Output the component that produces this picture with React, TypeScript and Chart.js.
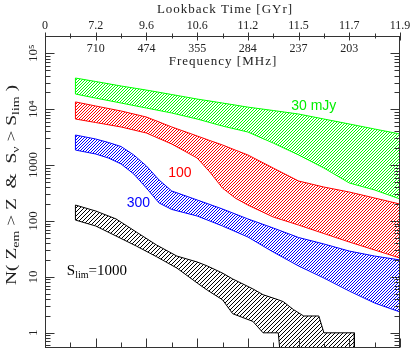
import React, { useEffect, useRef } from 'react';
import { Chart, registerables } from 'chart.js';
Chart.register(...registerables);

// ---- data (redshift z on the x axis, cumulative counts N on the y axis) ----
const zGreen = [0.6, 1, 1.5, 2, 2.5, 3, 3.5, 4, 4.5, 5, 5.5, 6, 6.5, 7];
const greenHi = [36100, 31300, 26000, 22000, 18300, 15200, 12900, 10900, 9480, 8200, 6680, 5440, 4420, 3600];
const greenLo = [18700, 15800, 12900, 10500, 8550, 6680, 5000, 3910, 2480, 1520, 887, 479, 359, 248];

const zRed = [0.6, 1, 1.5, 2, 2.5, 3, 3.25, 3.5, 3.75, 4, 4.5, 5, 5.5, 6, 6.5, 7];
const redHi = [13500, 11400, 9290, 7250, 4810, 3320, 2750, 2290, 1860, 1520, 887, 520, 405, 330, 258, 201];
const redLo = [6680, 5780, 4810, 3750, 2380, 1340, 753, 389, 258, 193, 118, 84.7, 59.7, 42.1, 30.3, 21.8];

const zBlue = [0.6, 1, 1.25, 1.5, 1.75, 2, 2.25, 2.5, 3, 3.5, 4, 4.5, 5, 5.5, 6, 6.5, 7];
const blueHi = [3450, 2930, 2540, 2150, 1520, 964, 541, 344, 238, 164, 109, 75, 50.7, 38.8, 29, 23.6, 20.1];
const blueLo = [1860, 1580, 1340, 1050, 693, 389, 210, 161, 123, 81.5, 51.8, 27.9, 15.7, 9.55, 5.59, 3.41, 2.36];

const zBlack = [0.6, 1.0, 1.4, 1.8, 2.2, 2.6, 3.0, 3.2, 3.5, 3.7, 4.1, 4.3, 4.6, 4.7, 4.9, 5.1, 5.4, 5.5, 6.1];
const blackHi = [193, 151, 109, 63.6, 37.2, 23.6, 18.5, 15.7, 11.7, 9.2, 6.1, 4.8, 3.9, 3.6, 2.6, 2, 2, 1, 1];
const blackLo = [104, 81.5, 54, 35.7, 23, 14.4, 7.8, 5.8, 3.9, 2.2, 1.6, 1, 1, 0.1, 0.1, 0.1, 0.1, 0.1, 0.1];

// ---- axis ticks ----
const lookbackTicks = [0, 1, 2, 3, 4, 5, 6, 7];
const lookbackLabels = ['0', '7.2', '9.6', '10.6', '11.2', '11.5', '11.7', '11.9'];
const freqTicks = [1, 2, 3, 4, 5, 6];
const freqLabels = ['710', '474', '355', '284', '237', '203'];
const yTickValues = [1, 10, 100, 1000, 10000, 100000];
const yTickLabels = ['1', '10', '100', '1000', '10⁴', '10⁵'];

// ---- band annotations (anchor in data coordinates) ----
const bandLabelText = ['30 mJy', '100', '300'];
const bandLabelZ = [5.3, 2.66, 1.84];
const bandLabelN = [11400, 723, 210];
const bandLabelColor = ['#00ee00', '#ff0000', '#0000ff'];
const sLimZ = 0.43;
const sLimN = 12.8;

const SERIF = '"Liberation Serif", "DejaVu Serif", serif';
const SANS = '"Liberation Sans", "DejaVu Sans", sans-serif';
const AXIS = '#333333';
const TEXT = '#222222';

function hatch(color: string, p: number) {
  const c = document.createElement('canvas');
  c.width = p;
  c.height = p;
  const g = c.getContext('2d')!;
  g.fillStyle = color;
  for (let i = 0; i < p; i++) g.fillRect(i, p - 1 - i, 1, 1);
  return g.createPattern(c, 'repeat')!;
}

function polygon(z: number[], hi: number[], lo: number[]) {
  const pts: { x: number; y: number }[] = [];
  for (let i = 0; i < z.length; i++) pts.push({ x: z[i], y: hi[i] });
  for (let i = z.length - 1; i >= 0; i--) pts.push({ x: z[i], y: lo[i] });
  pts.push({ x: z[0], y: hi[0] });
  return pts;
}

function drawRich(ctx: CanvasRenderingContext2D, parts: { t: string; sub?: boolean }[], size: number, subSize: number, x: number, y: number, targetLen: number | null, align: 'center' | 'left') {
  ctx.save();
  let W = 0;
  for (const p of parts) {
    ctx.font = `${p.sub ? subSize : size}px ${SERIF}`;
    W += ctx.measureText(p.t).width;
  }
  ctx.translate(x, y);
  const sx = targetLen ? targetLen / W : 1;
  ctx.scale(sx, 1);
  let cx = align === 'center' ? -W / 2 : 0;
  ctx.textAlign = 'left';
  ctx.textBaseline = 'middle';
  for (const p of parts) {
    ctx.font = `${p.sub ? subSize : size}px ${SERIF}`;
    ctx.fillText(p.t, cx, p.sub ? size * 0.33 : 0);
    cx += ctx.measureText(p.t).width;
  }
  ctx.restore();
}

const decor = {
  id: 'decor',
  afterDatasetsDraw(chart: any) {
    const { ctx, chartArea: a, scales } = chart;
    const xs = scales.x;
    const ys = scales.y;
    const L = Math.round(a.left) + 0.5;
    const R = Math.round(a.right) - 0.5;
    const T = Math.round(a.top) + 0.5;
    const B = Math.round(a.bottom) - 0.5;
    ctx.save();
    ctx.strokeStyle = AXIS;
    ctx.lineWidth = 1;
    ctx.strokeRect(L, T, R - L, B - T);
    ctx.beginPath();
    for (let i = 0; i <= 14; i++) {
      const z = i * 0.5;
      const px = Math.round(xs.getPixelForValue(z)) + 0.5;
      const major = i % 2 === 0;
      ctx.moveTo(px, B);
      ctx.lineTo(px, B - (major ? 9 : 5));
      ctx.moveTo(px, T - (major ? 4 : 3));
      ctx.lineTo(px, T + (major ? 4 : 2));
    }
    for (let d = -1; d <= 6; d++) {
      for (let k = 1; k <= 9; k++) {
        const v = k * Math.pow(10, d);
        if (v < ys.min || v > ys.max) continue;
        const py = Math.round(ys.getPixelForValue(v)) + 0.5;
        const len = k === 1 ? 9 : 5;
        ctx.moveTo(L, py);
        ctx.lineTo(L + len, py);
        ctx.moveTo(R, py);
        ctx.lineTo(R - len, py);
      }
    }
    ctx.stroke();

    ctx.fillStyle = TEXT;
    ctx.textAlign = 'center';
    ctx.textBaseline = 'middle';
    ctx.font = `12px ${SERIF}`;
    lookbackTicks.forEach((z, i) => ctx.fillText(lookbackLabels[i], xs.getPixelForValue(z), 26));
    freqTicks.forEach((z, i) => ctx.fillText(freqLabels[i], xs.getPixelForValue(z), 49));
    (ctx as any).letterSpacing = '1px';
    ctx.font = `13px ${SERIF}`;
    ctx.fillText('Lookback Time [GYr]', 225, 10);
    ctx.fillText('Frequency [MHz]', 223, 62);
    (ctx as any).letterSpacing = '0px';

    ctx.font = `13px ${SERIF}`;
    yTickValues.forEach((v, i) => {
      const py = ys.getPixelForValue(v);
      ctx.save();
      ctx.translate(34, py);
      ctx.rotate(-Math.PI / 2);
      ctx.fillText(yTickLabels[i], 0, 0);
      ctx.restore();
    });

    ctx.save();
    ctx.translate(12, 185);
    ctx.rotate(-Math.PI / 2);
    drawRich(ctx, [
      { t: 'N( Z' }, { t: 'em', sub: true }, { t: ' > Z  &  S' }, { t: 'ν', sub: true },
      { t: ' > S' }, { t: 'lim', sub: true }, { t: ' )' },
    ], 14, 10, 0, 0, 200, 'center');
    ctx.restore();

    ctx.textAlign = 'center';
    ctx.font = `14px ${SANS}`;
    bandLabelText.forEach((t, i) => {
      ctx.fillStyle = bandLabelColor[i];
      ctx.fillText(t, xs.getPixelForValue(bandLabelZ[i]), ys.getPixelForValue(bandLabelN[i]));
    });
    ctx.fillStyle = '#000';
    drawRich(ctx, [{ t: 'S' }, { t: 'lim', sub: true }, { t: '=1000' }], 15, 10,
      xs.getPixelForValue(sLimZ), ys.getPixelForValue(sLimN), null, 'left');
    ctx.restore();
  },
};

export default function App() {
  const ref = useRef<HTMLCanvasElement>(null);
  useEffect(() => {
    const bands = [
      { z: zGreen, hi: greenHi, lo: greenLo, color: '#00ff00', p: 3 },
      { z: zRed, hi: redHi, lo: redLo, color: '#ff0000', p: 3 },
      { z: zBlue, hi: blueHi, lo: blueLo, color: '#0000ff', p: 3 },
      { z: zBlack, hi: blackHi, lo: blackLo, color: '#000000', p: 4 },
    ];
    const chart = new Chart(ref.current!, {
      type: 'line',
      data: {
        datasets: bands.map((b) => ({
          data: polygon(b.z, b.hi, b.lo),
          borderColor: b.color,
          borderWidth: 1,
          backgroundColor: hatch(b.color, b.p) as any,
          fill: 'shape' as any,
          pointRadius: 0,
          tension: 0,
        })),
      },
      options: {
        animation: false,
        responsive: false,
        devicePixelRatio: 1,
        layout: { padding: { left: 45, right: 15, top: 36, bottom: 5 } },
        plugins: { legend: { display: false }, tooltip: { enabled: false } },
        scales: {
          x: { type: 'linear', min: 0, max: 7, display: false },
          y: { type: 'logarithmic', min: 0.535, max: 204000, display: false },
        },
      },
      plugins: [decor],
    });
    return () => chart.destroy();
  }, []);
  return (
    <div style={{ position: 'absolute', left: 0, top: 0, width: 415, height: 353, background: '#fff' }}>
      <canvas ref={ref} width={415} height={353} />
    </div>
  );
}
